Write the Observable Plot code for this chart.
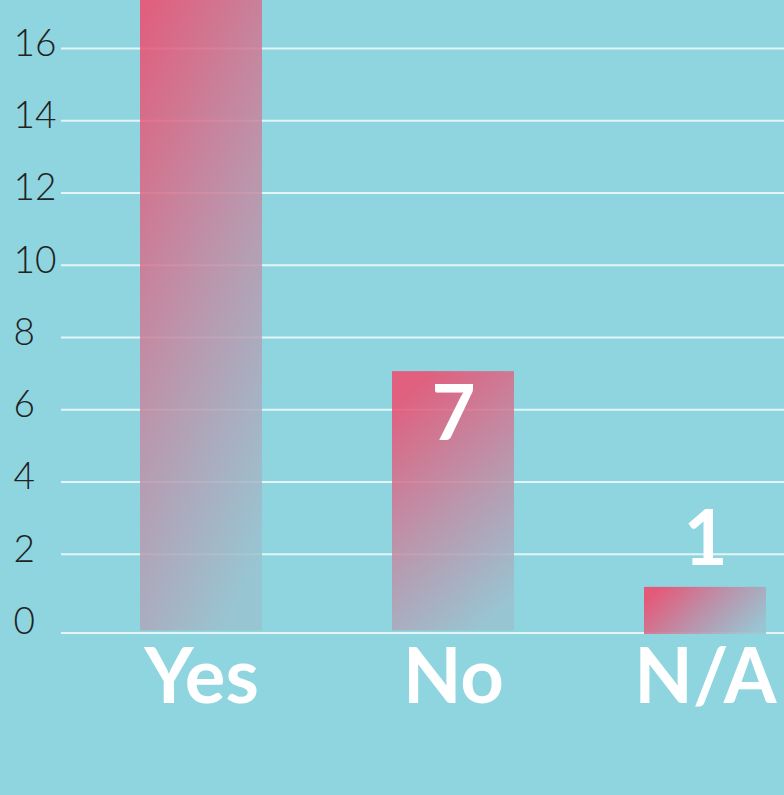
<!DOCTYPE html>
<html>
<head>
<meta charset="utf-8">
<script src="https://cdn.jsdelivr.net/npm/d3@7"></script>
<script src="https://cdn.jsdelivr.net/npm/@observablehq/plot@0.6"></script>
<style>
  html, body { margin: 0; padding: 0; background: #8ed5df; overflow: hidden; }
  #chart svg { display: block; background: #8ed5df; overflow: hidden; }
</style>
</head>
<body>
<div id="chart"></div>
<script>
const categories = ["Yes", "No", "N/A"];
const counts = [19, 7, 1];
const yTicks = [0, 2, 4, 6, 8, 10, 12, 14, 16];

const data = categories.map((c, i) => ({cat: c, count: counts[i]}));
const vertical = data.filter(d => d.cat !== "N/A");
const horizontal = data.filter(d => d.cat === "N/A");

const plot = Plot.plot({
  width: 784,
  height: 795,
  marginLeft: 61,
  marginRight: 0,
  marginTop: 0,
  marginBottom: 169,
  style: {background: "#8ed5df", fontFamily: "Lato, sans-serif", overflow: "hidden"},
  x: {domain: categories, paddingInner: 0.517, paddingOuter: 0.19, align: 0.81, label: null},
  y: {domain: [0, 17.33], label: null},
  marks: [
    Plot.ruleY(yTicks.filter(t => t > 0), {stroke: "white", strokeOpacity: 0.75, strokeWidth: 2}),
    Plot.ruleY(yTicks.filter(t => t === 0), {stroke: "white", strokeOpacity: 0.75, strokeWidth: 2, dy: 6.5}),
    Plot.barY(vertical, {x: "cat", y: "count", fill: "url(#vgrad)", fillOpacity: 0.85, insetTop: -2, insetBottom: -4.5}),
    Plot.barY(horizontal, {x: "cat", y: "count", fill: "url(#hgrad)", fillOpacity: 0.9, insetTop: -3, insetBottom: -8}),
    Plot.text(data.filter(d => d.cat === "No"), {x: "cat", y: "count", text: d => String(d.count), dy: 42, fill: "white", fontSize: 76, fontWeight: 700}),
    Plot.text(data.filter(d => d.cat === "N/A"), {x: "cat", y: "count", text: d => String(d.count), dy: -50, fill: "white", fontSize: 76, fontWeight: 700}),
    Plot.axisY(yTicks, {tickSize: 0, tickPadding: 0, textAnchor: "start", dx: -48, dy: -4.5, fill: "#222", fontSize: 37, fontWeight: 300, label: null}),
    Plot.axisX({tickSize: 0, tickPadding: 23, fill: "white", fontSize: 76, fontWeight: 700, label: null})
  ]
});

const ns = "http://www.w3.org/2000/svg";
const defs = document.createElementNS(ns, "defs");
function grad(id, x1, y1, x2, y2, stops) {
  const g = document.createElementNS(ns, "linearGradient");
  g.setAttribute("id", id);
  g.setAttribute("x1", x1); g.setAttribute("y1", y1);
  g.setAttribute("x2", x2); g.setAttribute("y2", y2);
  stops.forEach(([o, c]) => {
    const s = document.createElementNS(ns, "stop");
    s.setAttribute("offset", o);
    s.setAttribute("stop-color", c);
    g.appendChild(s);
  });
  defs.appendChild(g);
}
grad("vgrad", "0.3", "0", "0.7", "1", [["0", "#ee4b6d"], ["0.5", "#c489a2"], ["1", "#9ac2d0"]]);
grad("hgrad", "0", "0.3", "1", "0.7", [["0", "#ee4b6d"], ["0.5", "#c08aa4"], ["1", "#9ac2d0"]]);
plot.insertBefore(defs, plot.firstChild);

document.getElementById("chart").appendChild(plot);
</script>
</body>
</html>
